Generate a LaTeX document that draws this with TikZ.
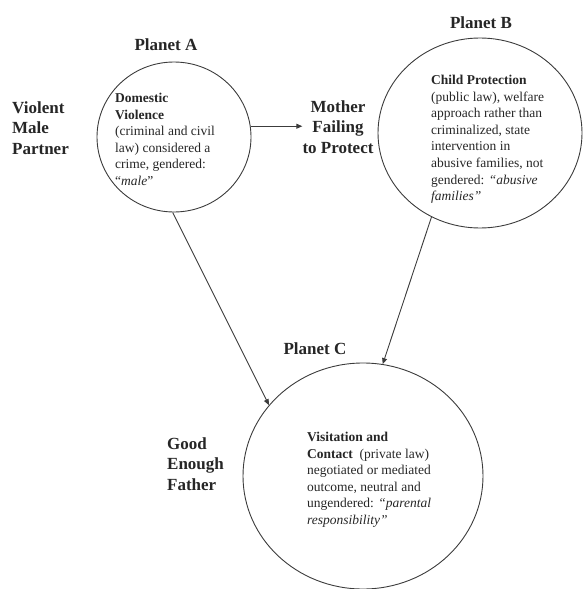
\documentclass[tikz,border=0pt]{standalone}
\usepackage{fontspec}
\setmainfont{Liberation Serif}
\usetikzlibrary{positioning,arrows.meta,shapes.geometric}
\definecolor{inkgray}{RGB}{60,60,60}
\tikzset{
  planet/.style={draw=inkgray,ellipse,line width=0.9pt,inner sep=0pt},
  body/.style={align=left,anchor=north west,inner sep=0pt,text=black!85,
               font=\fontsize{13.5}{16.6}\selectfont},
  lbl/.style={font=\fontsize{17}{20.5}\selectfont\bfseries,inner sep=0pt,text=black!85},
  arr/.style={-{Triangle[length=6pt,width=5pt]},line width=0.9pt,inkgray}
}
\begin{document}
\begin{tikzpicture}[x=1pt,y=-1pt]
  \useasboundingbox (0,0) rectangle (582,589);
  % the three planets
  \node[planet,minimum width=154pt,minimum height=150pt] (pa) at (174,137) {};
  \node[planet,minimum width=204pt,minimum height=190pt] (pb) at (480,133) {};
  \node[planet,minimum width=240pt,minimum height=226pt] (pc) at (363,476) {};
  \node[lbl] (la) at (166,45)  {Planet A};
  \node[lbl] (lb) at (481,23)  {Planet B};
  \node[lbl] (lc) at (315,349) {Planet C};
  % texts inside
  \node[body] (ta) at (115,93) {\textbf{Domestic}\\\textbf{Violence}\\(criminal and civil\\law) considered a\\crime, gendered:\\“\textit{male}”};
  \node[body] (tb) at (431,75) {\textbf{Child Protection}\\(public law), welfare\\approach rather than\\criminalized, state\\intervention in\\abusive families, not\\gendered: \textit{“abusive}\\\textit{families”}};
  \node[body] (tc) at (307,432) {\textbf{Visitation and}\\\textbf{Contact}~ (private law)\\negotiated or mediated\\outcome, neutral and\\ungendered: \textit{“parental}\\\textit{responsibility”}};
  % roles
  \node[lbl,align=left,anchor=west] (vm) at (12,128) {Violent\\Male\\Partner};
  \node[lbl,align=center] (mf) at (338,127) {Mother\\Failing\\to Protect};
  \node[lbl,align=left,anchor=west] (gf) at (167,464) {Good\\Enough\\Father};
  \draw[arr] (pa.8) -- (pa.8 -| mf.west);
  \draw[arr] (pa.-91) -- (pc.143);
  \draw[arr] (pb.240) -- (pc.80);
\end{tikzpicture}
\end{document}
